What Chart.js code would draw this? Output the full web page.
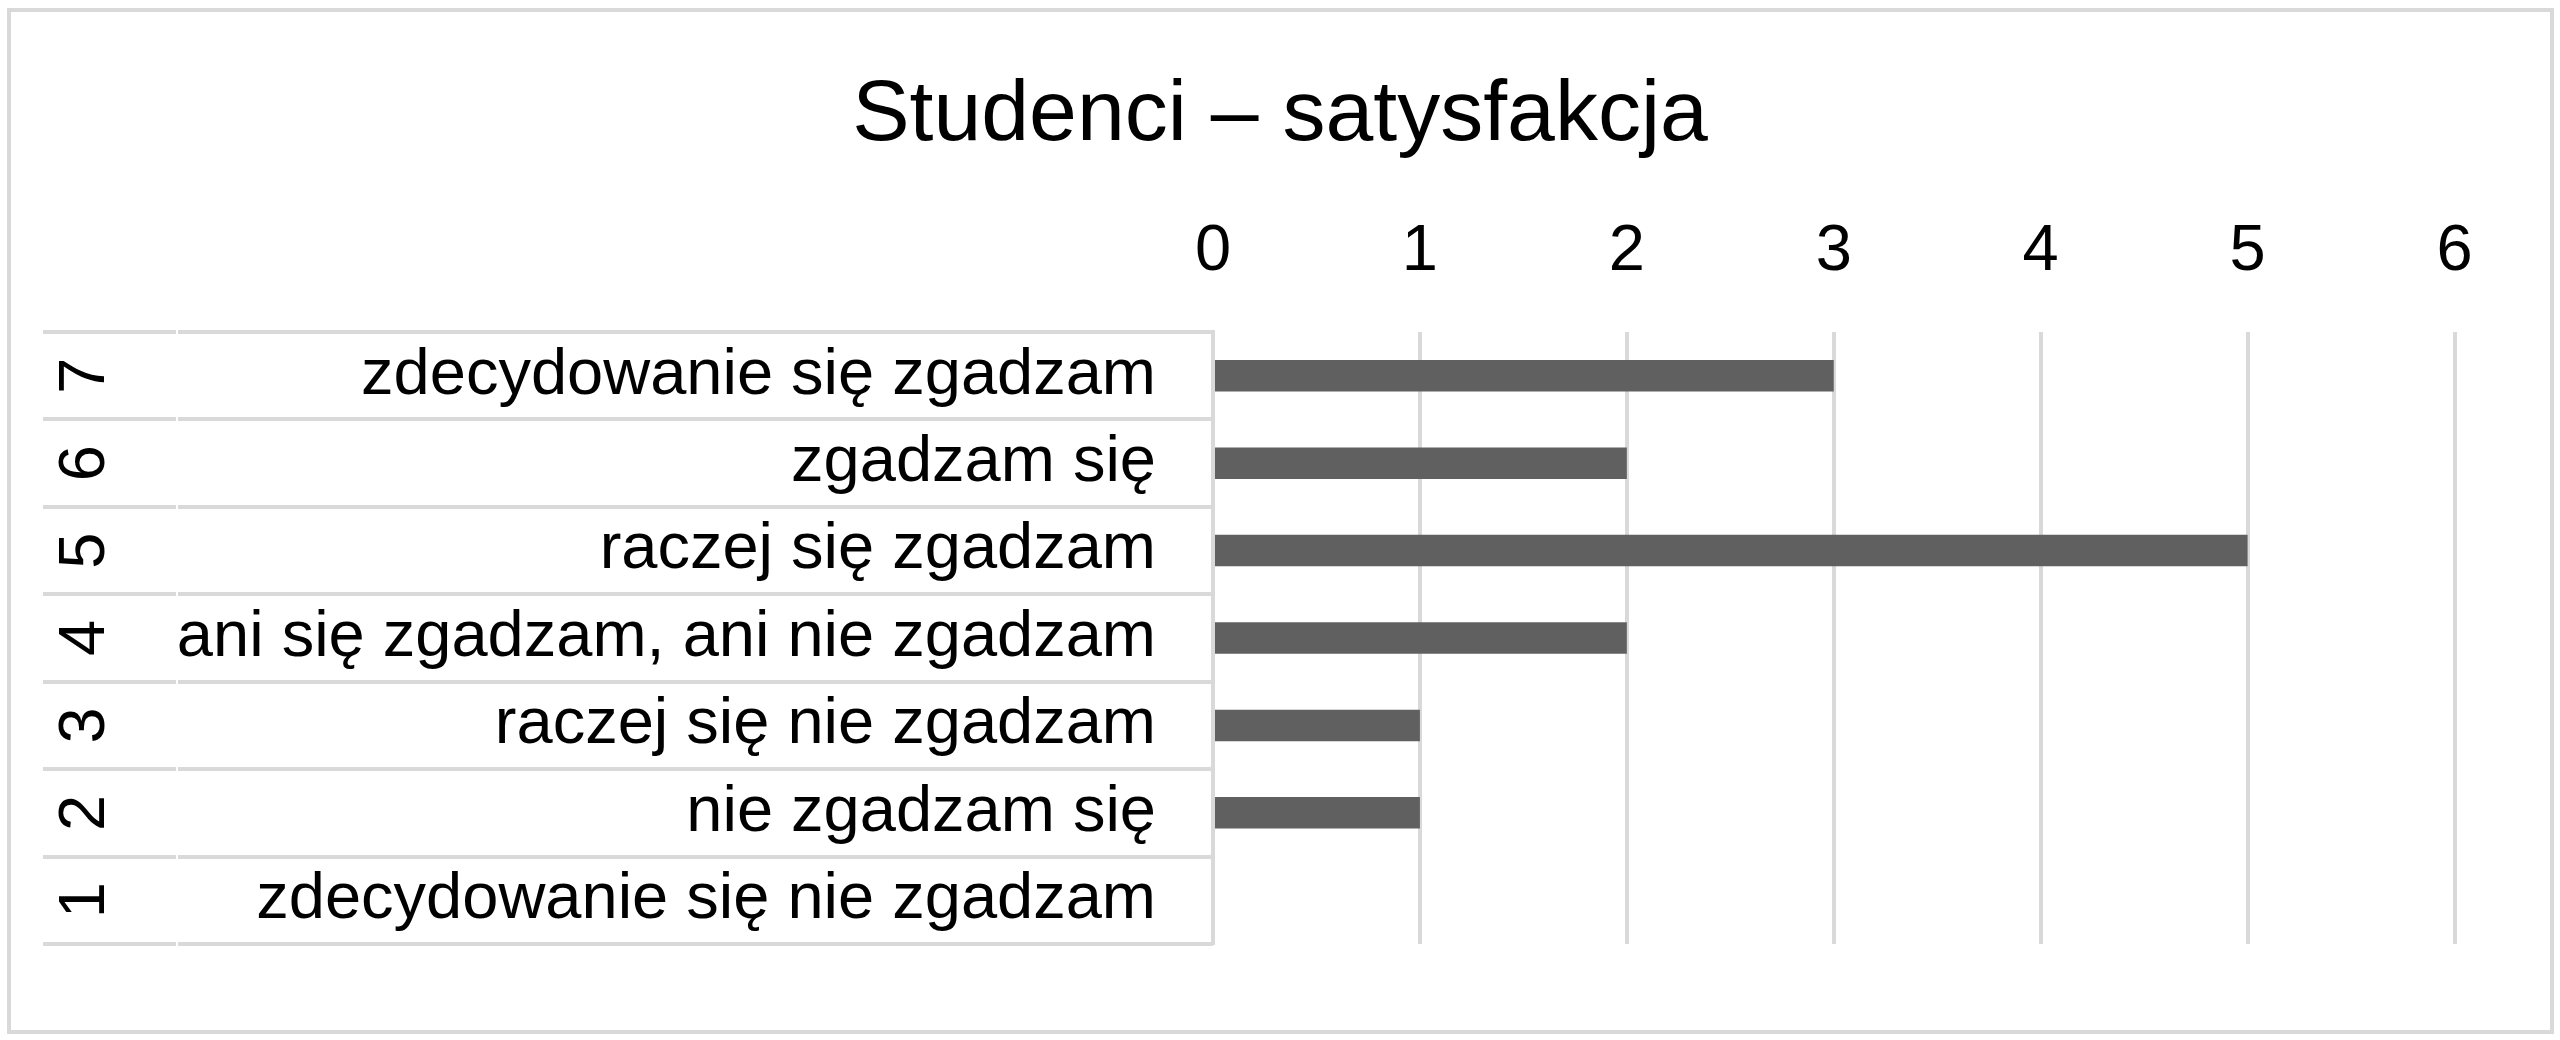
<!DOCTYPE html>
<html>
<head>
<meta charset="utf-8">
<title>Studenci – satysfakcja</title>
<script src="https://cdn.jsdelivr.net/npm/chart.js@4"></script>
<style>
  body { margin: 0; background: #fff; }
  canvas { display: block; }
</style>
</head>
<body>
<canvas id="myChart" width="2560" height="1040"></canvas>
<script>
// data
const answers = [
  "zdecydowanie się zgadzam",
  "zgadzam się",
  "raczej się zgadzam",
  "ani się zgadzam, ani nie zgadzam",
  "raczej się nie zgadzam",
  "nie zgadzam się",
  "zdecydowanie się nie zgadzam",
];
const levels = ["7", "6", "5", "4", "3", "2", "1"];
const counts = [3, 2, 5, 2, 1, 1, 0];
const xTicks = [0, 1, 2, 3, 4, 5, 6];

const FONT = "'Liberation Sans', Arial, sans-serif";
const LINE = "#d9d9d9";

// outer frame + multi level category lines and rotated numbers
const extras = {
  id: "extras",
  beforeDraw(chart) {
    const ctx = chart.ctx;
    ctx.save();
    ctx.fillStyle = "#fff";
    ctx.fillRect(0, 0, chart.width, chart.height);
    ctx.strokeStyle = LINE;
    ctx.lineWidth = 4;
    ctx.strokeRect(9, 10, 2543, 1022);
    ctx.restore();
  },
  afterDraw(chart) {
    const ctx = chart.ctx;
    const y = chart.scales.y;
    const half = (y.getPixelForValue(1) - y.getPixelForValue(0)) / 2;
    ctx.save();
    ctx.strokeStyle = LINE;
    ctx.lineWidth = 4;
    for (let i = 0; i <= answers.length; i++) {
      const py = Math.round(y.getPixelForValue(i) - half);
      ctx.beginPath();
      ctx.moveTo(43, py);
      ctx.lineTo(176, py);
      ctx.moveTo(178, py);
      ctx.lineTo(y.right, py);
      ctx.stroke();
    }
    ctx.fillStyle = "#000";
    ctx.font = "65px " + FONT;
    ctx.textAlign = "center";
    ctx.textBaseline = "middle";
    levels.forEach((lv, i) => {
      ctx.save();
      ctx.translate(86, y.getPixelForValue(i));
      ctx.rotate(-Math.PI / 2);
      ctx.fillText(lv, 0, 0);
      ctx.restore();
    });
    ctx.restore();
  },
};

const ctx1 = document.getElementById("myChart").getContext("2d");
const myChart = new Chart(ctx1, {
  type: "bar",
  data: {
    labels: answers,
    datasets: [
      {
        label: "Studenci",
        data: counts,
        backgroundColor: "#606060",
        borderWidth: 0,
        barPercentage: 0.36,
        categoryPercentage: 1,
      },
    ],
  },
  options: {
    indexAxis: "y",
    responsive: false,
    animation: false,
    // same padding left and right so the title stays centred on the canvas
    layout: { padding: { left: 105.5, right: 105.5, top: 0, bottom: 87 } },
    plugins: {
      legend: { display: false },
      tooltip: { enabled: false },
      title: {
        display: true,
        text: "Studenci – satysfakcja",
        color: "#000",
        font: { family: FONT, size: 86, weight: "normal" },
        padding: { top: 64.4, bottom: 0 },
      },
    },
    scales: {
      x: {
        position: "top",
        min: 0,
        max: 6,
        afterBuildTicks: (s) => { s.ticks = xTicks.map((v) => ({ value: v })); },
        afterFit: (s) => { s.height = 332 - 167.6; },
        ticks: {
          color: "#000",
          padding: 40.5,
          font: { family: FONT, size: 65 },
        },
        grid: { color: LINE, lineWidth: 4, drawTicks: false },
        border: { display: false },
      },
      y: {
        afterFit: (s) => { s.width = 1213 - 105.5; },
        ticks: {
          color: "#000",
          padding: 57,
          font: { family: FONT, size: 65 },
        },
        grid: { display: false, drawTicks: false },
        border: { display: true, color: LINE, width: 4 },
      },
    },
  },
  plugins: [extras],
});
</script>
</body>
</html>
